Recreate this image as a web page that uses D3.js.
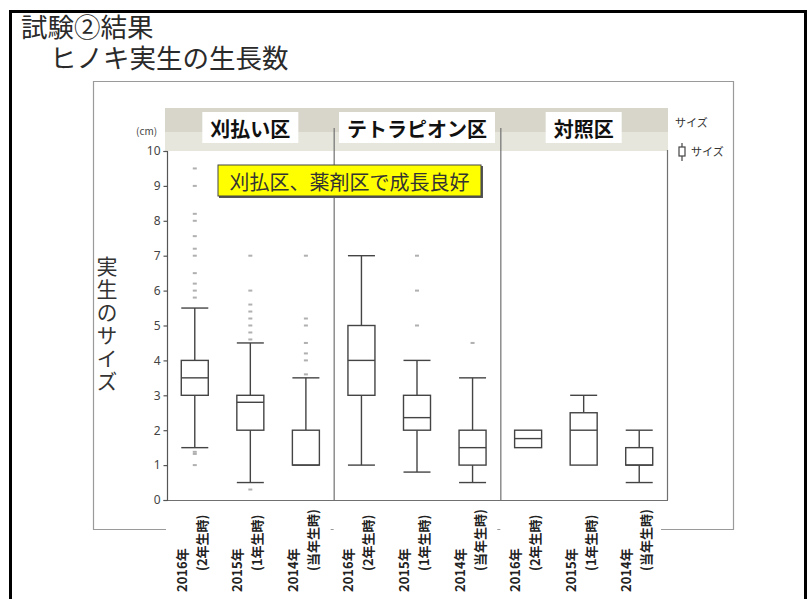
<!DOCTYPE html>
<html><head><meta charset="utf-8">
<script src="https://cdn.jsdelivr.net/npm/d3@7/dist/d3.min.js"></script>
<style>
html,body{margin:0;padding:0;background:#fff;}
svg{display:block;font-family:"Noto Sans CJK JP","Noto Sans",sans-serif;}
</style></head>
<body><svg id="c" width="809" height="599"></svg>
<script>
// ---- data ----
const titleLines = ["試験②結果", "ヒノキ実生の生長数"];
const groups = ["刈払い区", "テトラピオン区", "対照区"];
const yearLabels = ["2016年", "2015年", "2014年"];
const ageLabels = ["(2年生時)", "(1年生時)", "(当年生時)"];
const categories = ["刈払-2016", "刈払-2015", "刈払-2014", "テトラ-2016", "テトラ-2015", "テトラ-2014", "対照-2016", "対照-2015", "対照-2014"];
const whiskerLow  = [1.5, 0.5, 1.0, 1.0, 0.8, 0.5, 1.5, 1.0, 0.5];
const q1          = [3.0, 2.0, 1.0, 3.0, 2.0, 1.0, 1.5, 1.0, 1.0];
const median      = [3.5, 2.8, 1.0, 4.0, 2.36, 1.5, 1.76, 2.0, 1.0];
const q3          = [4.0, 3.0, 2.0, 5.0, 3.0, 2.0, 2.0, 2.5, 1.5];
const whiskerHigh = [5.5, 4.5, 3.5, 7.0, 4.0, 3.5, 2.0, 3.0, 2.0];
const outliers = [
  [1.0, 1.32, 1.38, 5.8, 6.0, 6.2, 6.5, 7.0, 7.2, 7.56, 8.0, 8.2, 9.0, 9.5],
  [0.3, 4.6, 4.8, 5.0, 5.2, 5.4, 5.6, 6.0, 7.0],
  [3.6, 4.0, 4.2, 4.5, 5.0, 5.2, 7.0],
  [],
  [5.0, 6.0, 7.0],
  [4.5],
  [], [], []
];
const yTicks = [0, 1, 2, 3, 4, 5, 6, 7, 8, 9, 10];
const axisTitle = "実生のサイズ";
const note = "刈払区、薬剤区で成長良好";

const svg = d3.select("#c");
const X0 = 167, X1 = 667, Y0 = 500, Y1 = 151;
const x = d3.scaleBand().domain(categories).range([X0, X1]);
const y = d3.scaleLinear().domain([0, 10]).range([Y0, Y1]);
const gx = d3.scaleBand().domain(groups).range([X0, X1]);

// outer black frame
svg.append("rect").attr("x", 10.5).attr("y", 11.5).attr("width", 795).attr("height", 640)
  .attr("fill", "none").attr("stroke", "#000").attr("stroke-width", 3);

// titles (one text, two lines)
const tt = svg.append("text").attr("font-size", 26.5).attr("fill", "#2a2a2a");
tt.append("tspan").attr("x", 21).attr("y", 37).text(titleLines[0]);
tt.append("tspan").attr("x", 50).attr("y", 68).text(titleLines[1]);

// inner grey panel border
const pc = "#9a9a9a";
svg.append("path").attr("d", "M166,529.5 H93.5 V81.5 H733.5 V529.5 H661")
  .attr("fill", "none").attr("stroke", pc).attr("stroke-width", 1.2);

// header band
svg.append("rect").attr("x", 165).attr("y", 108).attr("width", 503).attr("height", 24).attr("fill", "#d8d6ca");
svg.append("rect").attr("x", 165).attr("y", 132).attr("width", 503).attr("height", 19).attr("fill", "#e6e6dd");

// dividers and frame
const lc = "#707070";
gx.domain().forEach((g, i) => {
  if (i > 0) svg.append("line").attr("x1", gx(g) + 0.5).attr("x2", gx(g) + 0.5).attr("y1", 128).attr("y2", Y0)
    .attr("stroke", lc).attr("stroke-width", 1.2);
});
svg.append("line").attr("x1", X1 + 0.5).attr("x2", X1 + 0.5).attr("y1", 150).attr("y2", Y0).attr("stroke", lc).attr("stroke-width", 1.2);
svg.append("line").attr("x1", X0).attr("x2", X1 + 1).attr("y1", Y0 + 0.5).attr("y2", Y0 + 0.5).attr("stroke", lc).attr("stroke-width", 1.2);

// header labels
groups.forEach(g => {
  const cx = gx(g) + gx.bandwidth() / 2;
  const t = svg.append("text").attr("x", cx).attr("y", 128).attr("text-anchor", "middle")
    .attr("dominant-baseline", "central").attr("font-size", 20).attr("font-weight", "bold").attr("fill", "#111").text(g);
  const bb = t.node().getBBox();
  svg.insert("rect", () => t.node()).attr("x", bb.x - 8).attr("y", 112).attr("width", bb.width + 16).attr("height", 31).attr("fill", "#fff");
});

// y axis
const yAxis = d3.axisLeft(y).tickValues(yTicks).tickSize(4).tickPadding(3).tickFormat(d3.format("d"));
const ya = svg.append("g").attr("transform", `translate(${X0 + 0.5},0)`).call(yAxis);
ya.selectAll("path,line").attr("stroke", "#555").attr("stroke-width", 1.2);
ya.select(".domain").attr("d", `M-4,${Y1 + 0.5}H0V${Y0 + 0.5}H-4`);
ya.selectAll("text").attr("font-size", 12).attr("fill", "#444").attr("font-family", "'Noto Sans','Noto Sans CJK JP',sans-serif");
svg.append("text").attr("x", 136).attr("y", 135).attr("font-size", 10).attr("fill", "#444").text("(cm)");

// y axis title, vertical writing
svg.append("text").attr("x", 107).attr("y", 256).attr("font-size", 21).attr("fill", "#333")
  .style("writing-mode", "vertical-rl").style("letter-spacing", "2px").text(axisTitle);

// boxplots
const bw = 27;
categories.forEach((c, i) => {
  const cx = x(c) + x.bandwidth() / 2;
  const g = svg.append("g").attr("stroke", "#444").attr("stroke-width", 1.4).attr("fill", "none");
  if (whiskerHigh[i] > q3[i]) {
    g.append("line").attr("x1", cx).attr("x2", cx).attr("y1", y(q3[i])).attr("y2", y(whiskerHigh[i]));
    g.append("line").attr("x1", cx - bw / 2).attr("x2", cx + bw / 2).attr("y1", y(whiskerHigh[i])).attr("y2", y(whiskerHigh[i]));
  }
  if (whiskerLow[i] < q1[i]) {
    g.append("line").attr("x1", cx).attr("x2", cx).attr("y1", y(q1[i])).attr("y2", y(whiskerLow[i]));
    g.append("line").attr("x1", cx - bw / 2).attr("x2", cx + bw / 2).attr("y1", y(whiskerLow[i])).attr("y2", y(whiskerLow[i]));
  }
  g.append("rect").attr("x", cx - bw / 2).attr("y", y(q3[i])).attr("width", bw).attr("height", y(q1[i]) - y(q3[i])).attr("fill", "#fff");
  g.append("line").attr("x1", cx - bw / 2).attr("x2", cx + bw / 2).attr("y1", y(median[i])).attr("y2", y(median[i]));
  outliers[i].forEach(v => {
    svg.append("rect").attr("x", cx - 2).attr("y", y(v) - 1).attr("width", 4).attr("height", 2).attr("fill", "#b0b0b0");
  });
});

// x labels
categories.forEach((c, i) => {
  const cx = x(c) + x.bandwidth() / 2;
  const k = i % 3;
  const t = svg.append("text").attr("transform", `translate(${cx - 14},592) rotate(-90)`)
    .attr("font-size", 13).attr("font-weight", "bold").attr("fill", "#222").attr("dominant-baseline", "central");
  t.append("tspan").attr("x", 0).attr("y", 0).text(yearLabels[k]);
  t.append("tspan").attr("x", 21).attr("y", 20).text(ageLabels[k]);
});
// small group-separator marks
[1, 2].forEach(i => {
  const gxp = gx(groups[i]);
  svg.append("line").attr("x1", gxp - 3).attr("x2", gxp).attr("y1", 529.5).attr("y2", 529.5).attr("stroke", "#999");
});

// yellow note
svg.append("rect").attr("x", 219).attr("y", 166).attr("width", 264).attr("height", 32).attr("fill", "#555");
svg.append("rect").attr("x", 218).attr("y", 165).attr("width", 263).attr("height", 31).attr("fill", "#ffff00").attr("stroke", "#444").attr("stroke-width", 1);
svg.append("text").attr("x", 349.5).attr("y", 181).attr("text-anchor", "middle").attr("dominant-baseline", "central")
  .attr("font-size", 20).attr("fill", "#333").text(note);

// legend
svg.append("text").attr("x", 675).attr("y", 127).attr("font-size", 11).attr("fill", "#333").text("サイズ");
const lg = svg.append("g").attr("stroke", "#444").attr("stroke-width", 1.2).attr("fill", "#fff");
lg.append("line").attr("x1", 682).attr("x2", 682).attr("y1", 143).attr("y2", 161);
lg.append("rect").attr("x", 679).attr("y", 147).attr("width", 6).attr("height", 9);
svg.append("text").attr("x", 691).attr("y", 156).attr("font-size", 11).attr("fill", "#333").text("サイズ");
</script>
</body></html>
